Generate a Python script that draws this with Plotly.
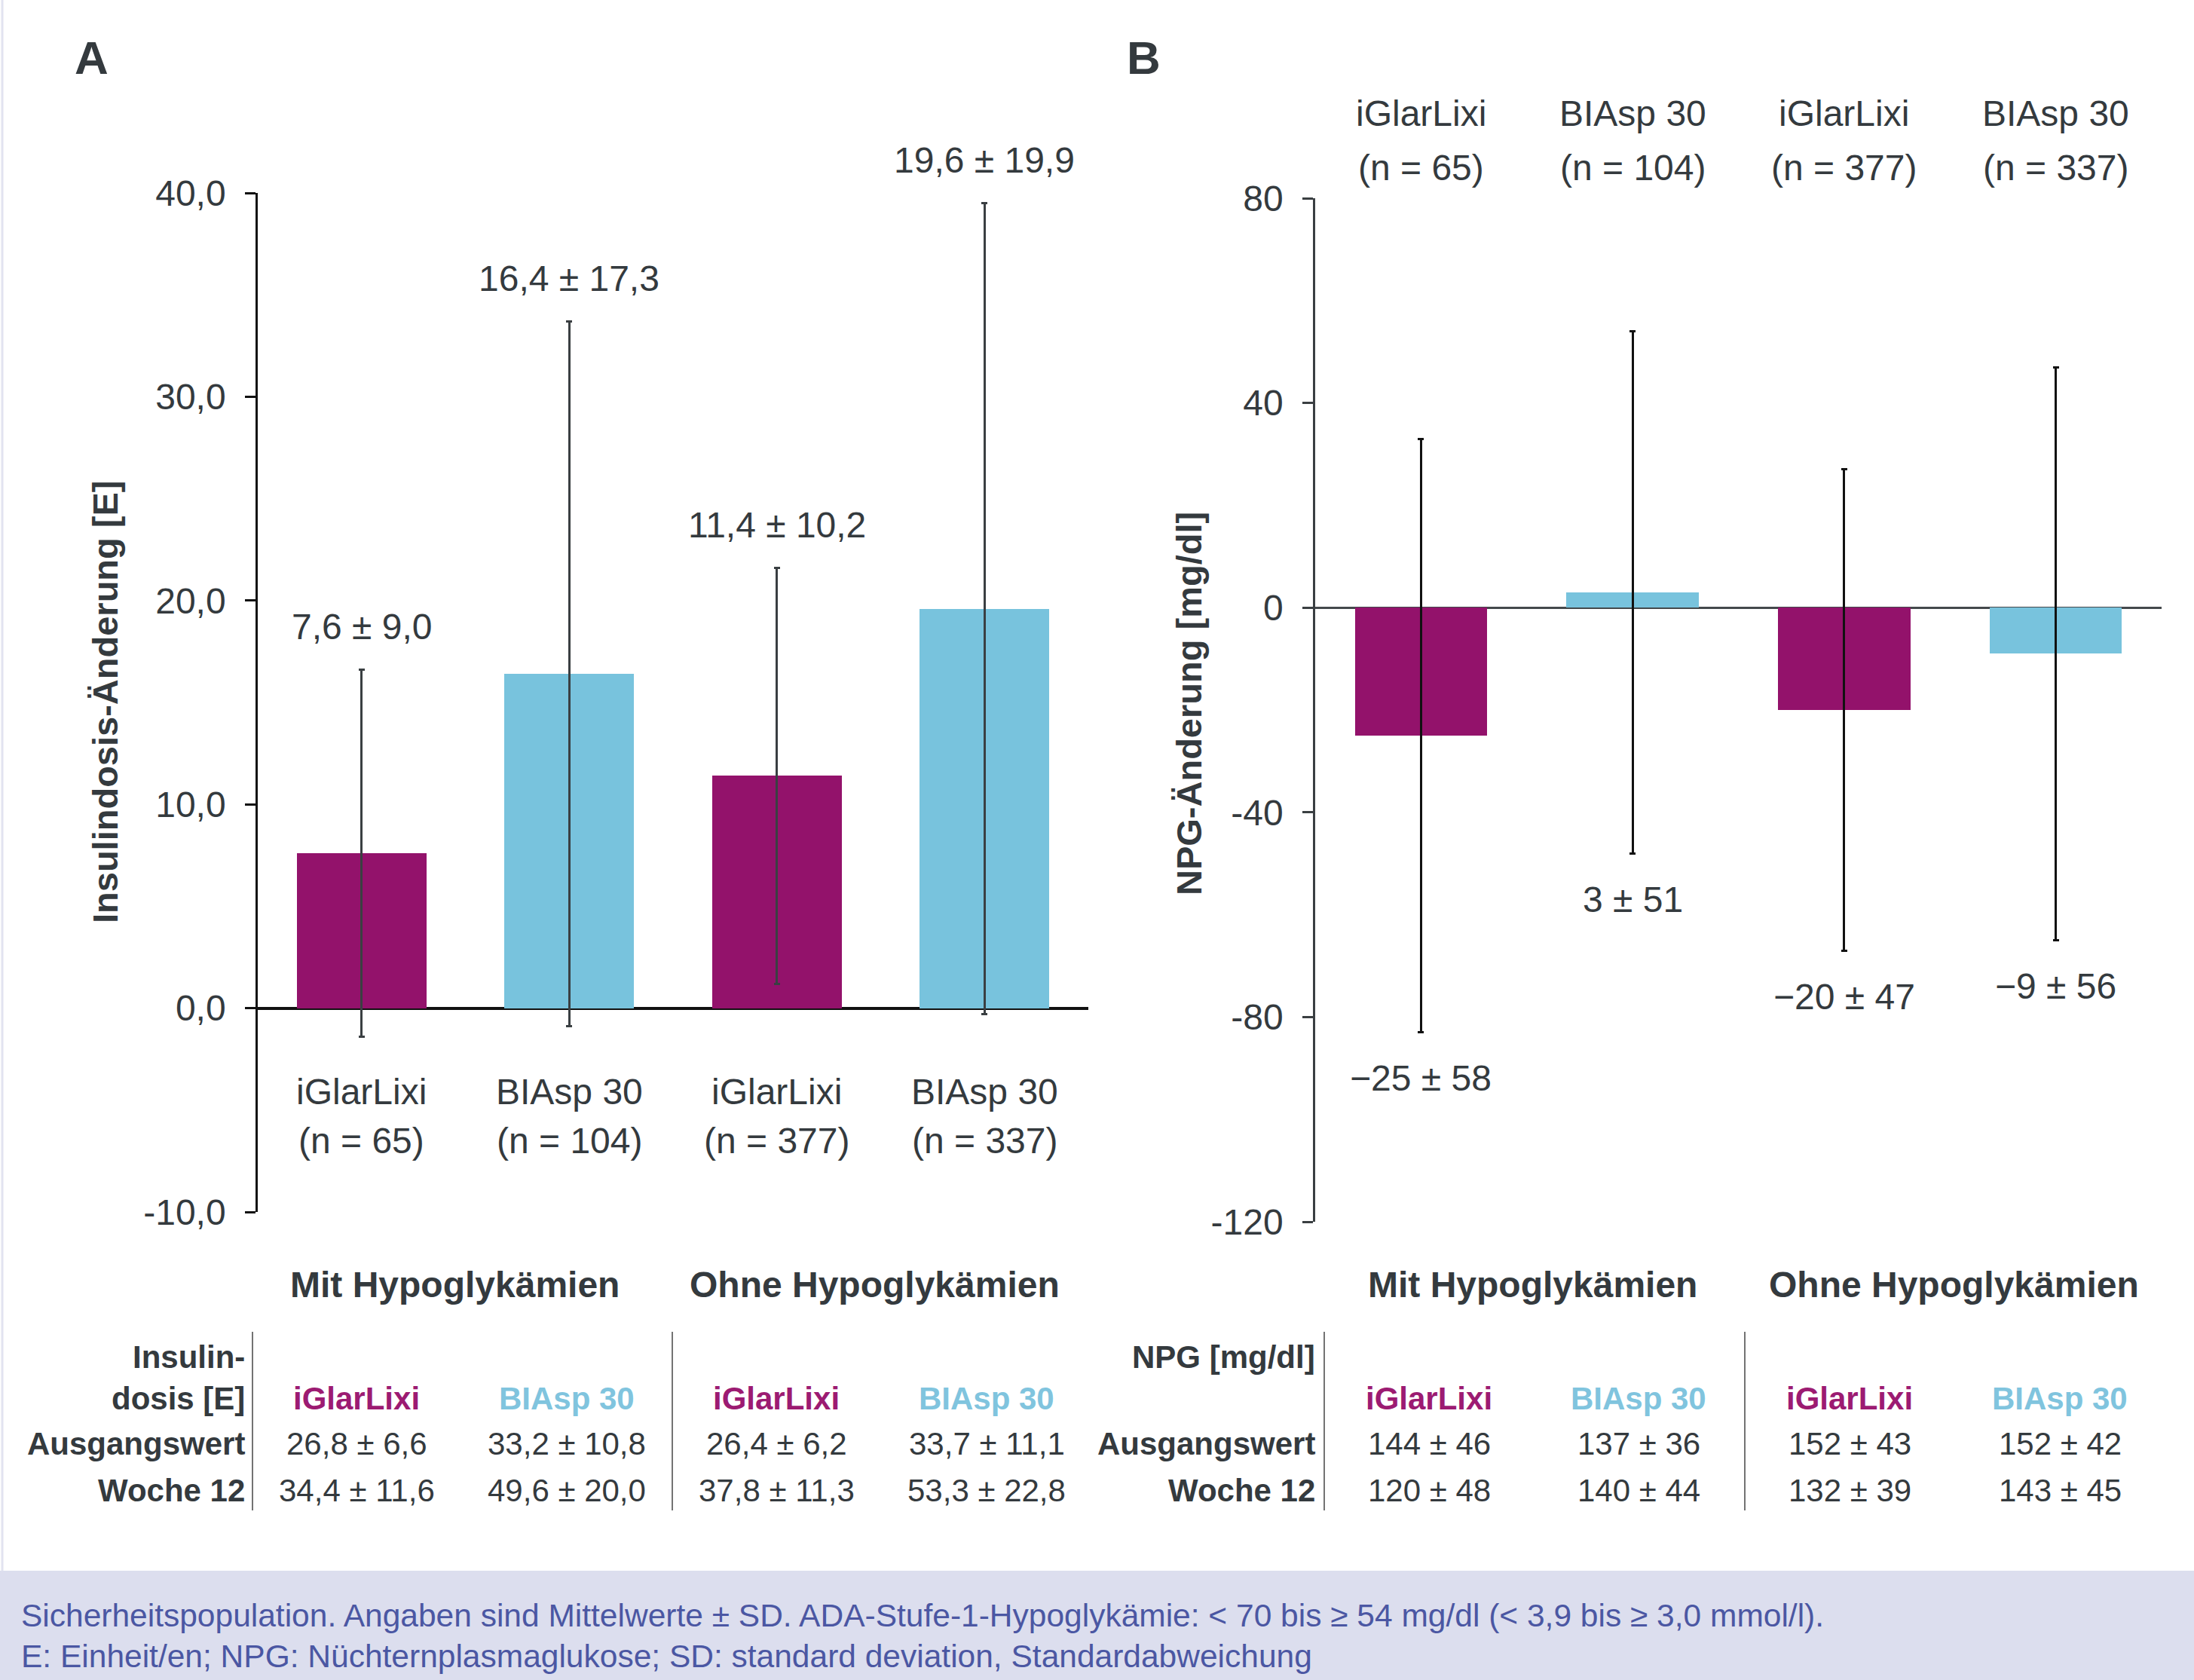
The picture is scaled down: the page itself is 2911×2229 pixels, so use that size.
import plotly.graph_objects as go

# ---------------- data ----------------
treatments = ["iGlarLixi", "BIAsp 30", "iGlarLixi", "BIAsp 30"]
n_labels = ["(n = 65)", "(n = 104)", "(n = 377)", "(n = 337)"]
groups = ["Mit Hypoglykämien", "Ohne Hypoglykämien"]

insulin_mean = [7.6, 16.4, 11.4, 19.6]
insulin_sd = [9.0, 17.3, 10.2, 19.9]
npg_mean = [-25, 3, -20, -9]
npg_sd = [58, 51, 47, 56]

a_tickvals = [-10, 0, 10, 20, 30, 40]
a_ticktext = ["-10,0", "0,0", "10,0", "20,0", "30,0", "40,0"]
b_tickvals = [-120, -80, -40, 0, 40, 80]
b_ticktext = ["-120", "-80", "-40", "0", "40", "80"]

insulin_baseline = ["26,8 ± 6,6", "33,2 ± 10,8", "26,4 ± 6,2", "33,7 ± 11,1"]
insulin_week12 = ["34,4 ± 11,6", "49,6 ± 20,0", "37,8 ± 11,3", "53,3 ± 22,8"]
npg_baseline = ["144 ± 46", "137 ± 36", "152 ± 43", "152 ± 42"]
npg_week12 = ["120 ± 48", "140 ± 44", "132 ± 39", "143 ± 45"]

footnote_lines = [
    "Sicherheitspopulation. Angaben sind Mittelwerte ± SD. ADA-Stufe-1-Hypoglykämie: < 70 bis ≥ 54 mg/dl (< 3,9 bis ≥ 3,0 mmol/l).",
    "E: Einheit/en; NPG: Nüchternplasmaglukose; SD: standard deviation, Standardabweichung",
]

# ---------------- style ----------------
W, H = 2911, 2229
FONT = "Liberation Sans, Arial, sans-serif"
TXT = "#343a3e"
MAGENTA = "#93126b"
BLUE = "#78c3dd"
MAGENTA_T = "#9c1b72"
BLUE_T = "#80c4de"
bar_colors = [MAGENTA, BLUE, MAGENTA, BLUE]
head_colors = [MAGENTA_T, BLUE_T, MAGENTA_T, BLUE_T]
FS = 48


def px(p):
    return p / W


def py(p):
    return 1 - p / H


def fmt_de(v):
    return f"{v:.1f}".replace(".", ",")


def fmt_int(v):
    return (f"{v:d}" if v >= 0 else f"\u2212{abs(v):d}")


xs = list(range(len(treatments)))

fig = go.Figure()

fig.add_trace(go.Bar(
    x=xs, y=insulin_mean, width=0.625,
    marker=dict(color=bar_colors, line=dict(width=0)),
    error_y=dict(type="data", array=insulin_sd, visible=True,
                 color="#3a3f42", thickness=3, width=4),
    xaxis="x", yaxis="y", showlegend=False, hoverinfo="skip",
))
fig.add_trace(go.Bar(
    x=xs, y=npg_mean, width=0.625,
    marker=dict(color=bar_colors, line=dict(width=0)),
    error_y=dict(type="data", array=npg_sd, visible=True,
                 color="#111", thickness=3, width=4),
    xaxis="x2", yaxis="y2", showlegend=False, hoverinfo="skip",
))

axis_font = dict(family=FONT, size=FS, color=TXT)

layout = dict(
    width=W, height=H, autosize=False,
    margin=dict(l=0, r=0, t=0, b=0, pad=0, autoexpand=False),
    paper_bgcolor="white", plot_bgcolor="rgba(0,0,0,0)",
    font=dict(family=FONT, size=FS, color=TXT),
    xaxis=dict(domain=[px(342), px(1444)], range=[-0.5, 3.5], anchor="y",
               showline=False, showticklabels=False, ticks="", showgrid=False,
               zeroline=False, automargin=False),
    yaxis=dict(domain=[py(1608), py(256)], range=[-10, 40], anchor="x",
               tickvals=a_tickvals, ticktext=a_ticktext, ticks="outside",
               ticklen=14, tickwidth=2.5, tickcolor="#111", showline=True,
               linecolor="#111", linewidth=2.5, showgrid=False,
               zeroline=True, zerolinecolor="#111", zerolinewidth=3.5,
               tickfont=axis_font, ticklabelstandoff=16, automargin=False),
    xaxis2=dict(domain=[px(1745), px(2868)], range=[-0.5, 3.5], anchor="y2",
                showline=False, showticklabels=False, ticks="", showgrid=False,
                zeroline=False, automargin=False),
    yaxis2=dict(domain=[py(1621), py(263)], range=[-120, 80], anchor="x2",
                tickvals=b_tickvals, ticktext=b_ticktext, ticks="outside",
                ticklen=14, tickwidth=2.5, tickcolor="#3a3f42", showline=True,
                linecolor="#3a3f42", linewidth=2.5, showgrid=False,
                zeroline=True, zerolinecolor="#44494c", zerolinewidth=3,
                tickfont=axis_font, ticklabelstandoff=16, automargin=False),
    bargap=0,
)
fig.update_layout(**layout)

ann = []


def text(x, y, s, size=FS, bold=False, color=TXT, xanchor="center",
         yanchor="middle", xref="paper", yref="paper", angle=0, yshift=0):
    if bold:
        s = f"<b>{s}</b>"
    ann.append(dict(x=x, y=y, text=s, xref=xref, yref=yref, showarrow=False,
                    xanchor=xanchor, yanchor=yanchor, textangle=angle,
                    yshift=yshift,
                    font=dict(family=FONT, size=size, color=color)))


# panel letters
text(px(121), py(76), "A", size=62, bold=True)
text(px(1517), py(76), "B", size=62, bold=True)

# axis titles
text(px(139), py(932), "Insulindosis-Änderung [E]", size=47, bold=True, angle=-90)
text(px(1578), py(934), "NPG-Änderung [mg/dl]", size=47, bold=True, angle=-90)

# value labels
for i, (m, s) in enumerate(zip(insulin_mean, insulin_sd)):
    text(i, m + s, f"{fmt_de(m)} ± {fmt_de(s)}", xref="x", yref="y", yshift=57)
for i, (m, s) in enumerate(zip(npg_mean, npg_sd)):
    text(i, m - s, f"{fmt_int(m)} ± {s}", xref="x2", yref="y2", yshift=-61)

# category labels
for i, (t, n) in enumerate(zip(treatments, n_labels)):
    text(i, py(1448), t, xref="x")
    text(i, py(1513), n, xref="x")
    text(i, py(150), t, xref="x2")
    text(i, py(222), n, xref="x2")

# group headers
for gx, g in zip([603, 1160, 2033, 2592], groups + groups):
    text(px(gx), py(1704), g, bold=True)

# tables
TS = 42
text(px(327), py(1800), "Insulin-", size=TS, bold=True, xanchor="right")
text(px(327), py(1855), "dosis [E]", size=TS, bold=True, xanchor="right")
text(px(327), py(1915), "Ausgangswert", size=TS, bold=True, xanchor="right")
text(px(327), py(1977), "Woche 12", size=TS, bold=True, xanchor="right")
text(px(1747), py(1800), "NPG [mg/dl]", size=TS, bold=True, xanchor="right")
text(px(1747), py(1915), "Ausgangswert", size=TS, bold=True, xanchor="right")
text(px(1747), py(1977), "Woche 12", size=TS, bold=True, xanchor="right")

cols_a = [473, 752, 1030, 1309]
cols_b = [1896, 2174, 2454, 2733]
for i in range(4):
    text(px(cols_a[i]), py(1855), treatments[i], size=TS, bold=True, color=head_colors[i])
    text(px(cols_a[i]), py(1915), insulin_baseline[i], size=TS)
    text(px(cols_a[i]), py(1977), insulin_week12[i], size=TS)
    text(px(cols_b[i]), py(1855), treatments[i], size=TS, bold=True, color=head_colors[i])
    text(px(cols_b[i]), py(1915), npg_baseline[i], size=TS)
    text(px(cols_b[i]), py(1977), npg_week12[i], size=TS)

# footnote
text(px(26), py(2143), footnote_lines[0], size=42.5, color="#4b57a3", xanchor="left")
text(px(26), py(2197), footnote_lines[1], size=42.5, color="#4b57a3", xanchor="left")

shapes = []
# footer band
shapes.append(dict(type="rect", xref="paper", yref="paper", x0=0, x1=1,
                   y0=0, y1=py(2084), fillcolor="#dcdeee", line=dict(width=0),
                   layer="below"))
# left border
shapes.append(dict(type="line", xref="paper", yref="paper", x0=px(3), x1=px(3),
                   y0=py(2084), y1=1, line=dict(color="#e2e3f0", width=3)))
# table dividers
for dx in [335, 892, 1757, 2315]:
    shapes.append(dict(type="line", xref="paper", yref="paper", x0=px(dx), x1=px(dx),
                       y0=py(2004), y1=py(1767), line=dict(color="#444", width=1.5)))

fig.update_layout(annotations=ann, shapes=shapes)

fig.write_html(
    "out.html",
    config={"displayModeBar": False},
    post_script=("document.body.style.margin='0';"
                 "document.body.style.padding='0';"
                 "document.documentElement.style.overflow='hidden';"),
)
